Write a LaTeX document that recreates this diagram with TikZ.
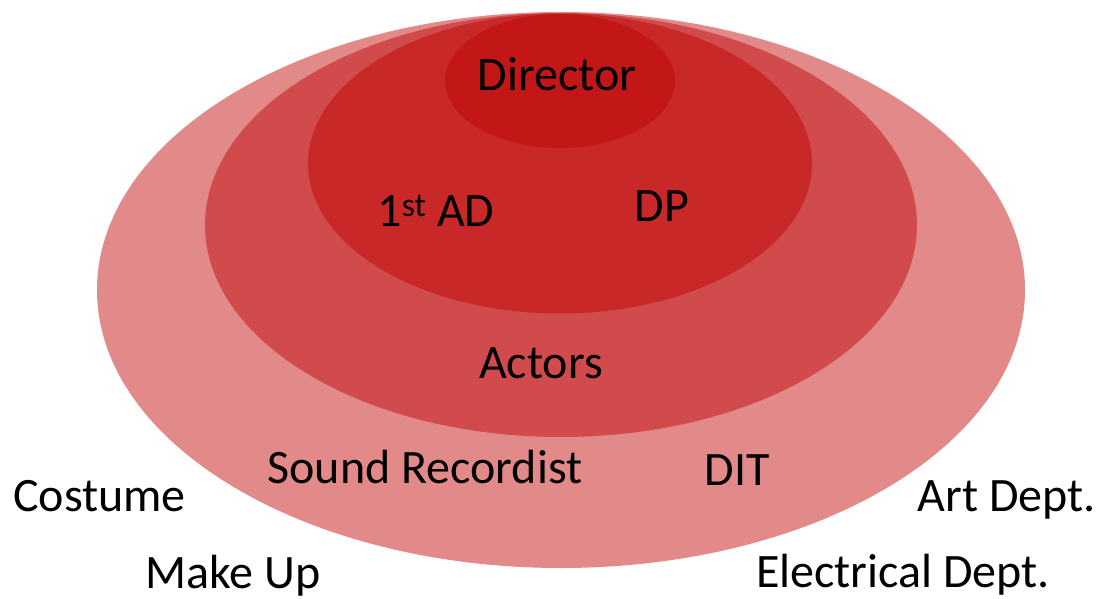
\documentclass[tikz,border=0pt]{standalone}
\usepackage{fontspec}
\setmainfont{Carlito}
\usepackage{tikz}
\definecolor{ringOuter}{HTML}{E28A8A}
\definecolor{ringMid}{HTML}{D14B4C}
\definecolor{ringInner}{HTML}{C92829}
\definecolor{ringTop}{HTML}{C31717}
\tikzset{crewlabel/.style={anchor=base,inner sep=0pt,font=\fontsize{48}{52}\selectfont}}
\begin{document}
\begin{tikzpicture}[x=1pt,y=-1pt]
  \useasboundingbox (0,0) rectangle (1101,599);

  \fill[color=ringOuter] (561,290) ellipse [x radius=464, y radius=278];
  \fill[color=ringMid] (561,225) ellipse [x radius=356, y radius=212];
  \fill[color=ringInner] (560,163.5) ellipse [x radius=252, y radius=150];
  \fill[color=ringTop] (560,81) ellipse [x radius=115, y radius=67];

  \node[crewlabel] (director) at (557,91) {Director};
  \node[crewlabel] (firstad) at (436,226) {1\textsuperscript{st} AD};
  \node[crewlabel] (dp) at (662,222) {DP};
  \node[crewlabel] (actors) at (541,378) {Actors};
  \node[crewlabel] (sound) at (425,483) {Sound Recordist};
  \node[crewlabel] (dit) at (737,485) {DIT};
  \node[crewlabel,anchor=base west] (costume) at (13,511) {Costume};
  \node[crewlabel,anchor=base east] (art) at (1096,511) {Art Dept.};
  \node[crewlabel,anchor=base west] (makeup) at (145,588) {Make Up};
  \node[crewlabel,anchor=base west] (electrical) at (756,587) {Electrical Dept.};
\end{tikzpicture}
\end{document}
